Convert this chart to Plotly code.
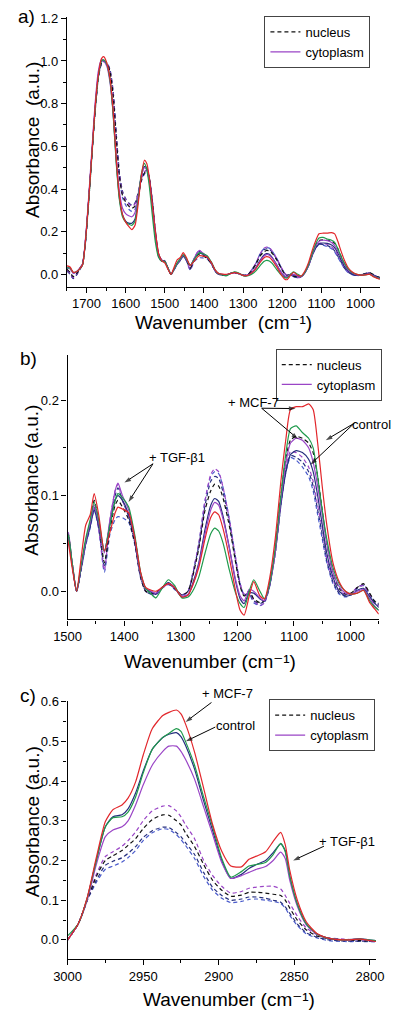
import plotly.graph_objects as go

# ---------------- data: panels a) and b) (same spectra, different x-range) ----------------
wn_ab = [1750, 1742, 1734, 1726, 1718, 1710, 1702, 1694, 1686, 1678, 1670, 1662, 1656, 1648, 1640, 1632,
         1624, 1616, 1608, 1600, 1592, 1584, 1576, 1568, 1560, 1552, 1546, 1540, 1532, 1524, 1516, 1508,
         1500, 1492, 1484, 1476, 1468, 1460, 1453, 1445, 1435, 1425, 1416, 1411, 1403, 1392, 1381, 1371,
         1362, 1352, 1344, 1333, 1322, 1311, 1298, 1287, 1279, 1268, 1257, 1247, 1240, 1233, 1225, 1214,
         1203, 1195, 1188, 1179, 1171, 1160, 1152, 1144, 1133, 1123, 1114, 1106, 1096, 1085, 1074, 1066,
         1058, 1050, 1042, 1031, 1020, 1009, 999, 988, 977, 966, 958, 950]

cyto_red = [0.040, 0.035, 0.010, 0.012, 0.025, 0.045, 0.170, 0.360, 0.570, 0.780, 0.930, 1.010, 1.020, 0.990, 0.920, 0.770,
            0.540, 0.370, 0.280, 0.245, 0.225, 0.210, 0.230, 0.330, 0.460, 0.535, 0.520, 0.460, 0.330, 0.200, 0.100, 0.065,
            0.054, 0.025, 0.000, 0.035, 0.069, 0.080, 0.102, 0.080, 0.042, 0.062, 0.082, 0.088, 0.086, 0.082, 0.055, 0.020,
            0.004, 0.001, 0.000, 0.004, 0.008, 0.004, -0.006, -0.004, 0.006, 0.025, 0.055, 0.077, 0.083, 0.080, 0.065, 0.035,
            0.000, -0.020, -0.025, -0.005, 0.010, -0.005, -0.008, 0.010, 0.055, 0.115, 0.160, 0.190, 0.193, 0.193, 0.196, 0.190,
            0.155, 0.110, 0.070, 0.030, 0.010, 0.000, -0.003, -0.002, 0.001, -0.012, -0.018, -0.024]
cyto_green = [0.030, 0.030, 0.010, 0.012, 0.025, 0.045, 0.165, 0.350, 0.560, 0.770, 0.920, 1.000, 1.005, 0.985, 0.910, 0.750,
              0.520, 0.350, 0.270, 0.245, 0.235, 0.230, 0.250, 0.350, 0.470, 0.520, 0.490, 0.420, 0.280, 0.150, 0.080, 0.062,
              0.060, 0.030, 0.000, 0.028, 0.055, 0.075, 0.093, 0.075, 0.042, 0.070, 0.095, 0.102, 0.098, 0.088, 0.058, 0.020,
              0.003, -0.003, -0.007, 0.003, 0.012, 0.006, -0.007, -0.006, 0.000, 0.015, 0.040, 0.060, 0.066, 0.063, 0.050, 0.022,
              -0.002, -0.013, -0.017, 0.000, 0.012, 0.000, -0.008, 0.005, 0.045, 0.100, 0.145, 0.170, 0.173, 0.166, 0.160, 0.150,
              0.120, 0.085, 0.055, 0.025, 0.008, 0.000, -0.003, -0.002, 0.001, -0.010, -0.016, -0.020]
cyto_purple = [0.030, 0.025, 0.005, 0.012, 0.028, 0.050, 0.180, 0.375, 0.590, 0.800, 0.950, 1.005, 1.000, 0.975, 0.900, 0.760,
               0.550, 0.390, 0.310, 0.285, 0.275, 0.270, 0.290, 0.370, 0.460, 0.500, 0.490, 0.440, 0.320, 0.190, 0.090, 0.065,
               0.060, 0.030, 0.000, 0.026, 0.052, 0.072, 0.090, 0.072, 0.040, 0.075, 0.105, 0.113, 0.100, 0.085, 0.055, 0.018,
               0.003, 0.000, -0.002, 0.003, 0.008, 0.004, -0.005, -0.003, 0.006, 0.028, 0.060, 0.085, 0.093, 0.090, 0.075, 0.045,
               0.012, -0.005, -0.010, 0.002, 0.000, -0.007, -0.010, 0.004, 0.040, 0.095, 0.135, 0.155, 0.160, 0.158, 0.150, 0.135,
               0.110, 0.080, 0.050, 0.020, 0.005, -0.002, -0.003, 0.000, 0.002, -0.008, -0.015, -0.020]
cyto_navy = [0.030, 0.030, 0.008, 0.010, 0.025, 0.045, 0.170, 0.360, 0.570, 0.780, 0.930, 1.000, 1.003, 0.985, 0.915, 0.760,
             0.530, 0.360, 0.280, 0.250, 0.240, 0.240, 0.260, 0.350, 0.460, 0.505, 0.500, 0.450, 0.320, 0.180, 0.085, 0.062,
             0.058, 0.028, 0.000, 0.024, 0.050, 0.068, 0.085, 0.068, 0.042, 0.070, 0.095, 0.100, 0.095, 0.080, 0.055, 0.018,
             0.003, -0.001, -0.003, 0.004, 0.009, 0.004, -0.006, -0.004, 0.008, 0.030, 0.065, 0.090, 0.097, 0.094, 0.078, 0.045,
             0.010, -0.008, -0.013, -0.002, -0.002, -0.008, -0.010, 0.003, 0.040, 0.090, 0.125, 0.143, 0.147, 0.145, 0.138, 0.125,
             0.100, 0.070, 0.040, 0.015, 0.000, -0.005, -0.004, 0.001, 0.003, -0.006, -0.012, -0.017]
nuc_purple = [0.020, 0.005, -0.015, 0.000, 0.025, 0.050, 0.170, 0.360, 0.570, 0.770, 0.920, 0.990, 1.000, 0.990, 0.955, 0.850,
              0.650, 0.470, 0.380, 0.350, 0.330, 0.320, 0.330, 0.380, 0.450, 0.480, 0.490, 0.460, 0.350, 0.200, 0.095, 0.068,
              0.064, 0.030, 0.000, 0.025, 0.050, 0.070, 0.088, 0.065, 0.022, 0.075, 0.105, 0.112, 0.095, 0.078, 0.050, 0.015,
              0.000, -0.003, -0.003, 0.004, 0.008, 0.003, -0.004, 0.000, 0.018, 0.050, 0.095, 0.122, 0.128, 0.125, 0.108, 0.075,
              0.035, 0.008, -0.003, 0.000, -0.010, -0.015, -0.012, 0.003, 0.040, 0.095, 0.130, 0.146, 0.145, 0.140, 0.130, 0.115,
              0.090, 0.065, 0.035, 0.012, 0.000, -0.003, -0.002, 0.004, 0.006, -0.004, -0.012, -0.015]
nuc_black = [0.025, 0.010, -0.010, 0.002, 0.025, 0.050, 0.170, 0.360, 0.570, 0.770, 0.920, 0.990, 1.000, 0.990, 0.950, 0.840,
             0.640, 0.460, 0.370, 0.340, 0.320, 0.310, 0.320, 0.370, 0.440, 0.475, 0.485, 0.455, 0.345, 0.200, 0.095, 0.066,
             0.062, 0.030, 0.000, 0.025, 0.052, 0.072, 0.095, 0.072, 0.030, 0.065, 0.090, 0.095, 0.088, 0.075, 0.050, 0.015,
             0.000, -0.002, -0.002, 0.004, 0.008, 0.003, -0.004, 0.000, 0.015, 0.045, 0.085, 0.105, 0.112, 0.110, 0.097, 0.068,
             0.030, 0.005, -0.005, 0.000, -0.008, -0.012, -0.010, 0.005, 0.045, 0.100, 0.140, 0.158, 0.162, 0.160, 0.155, 0.145,
             0.120, 0.085, 0.050, 0.020, 0.003, -0.003, -0.002, 0.004, 0.008, -0.002, -0.010, -0.014]
nuc_navy = [0.015, 0.000, -0.020, -0.005, 0.020, 0.045, 0.160, 0.350, 0.560, 0.760, 0.915, 0.985, 0.998, 0.992, 0.960, 0.860,
            0.660, 0.480, 0.390, 0.355, 0.335, 0.325, 0.335, 0.385, 0.450, 0.480, 0.488, 0.458, 0.350, 0.205, 0.098, 0.068,
            0.062, 0.030, 0.000, 0.024, 0.050, 0.068, 0.088, 0.068, 0.025, 0.072, 0.100, 0.108, 0.095, 0.078, 0.050, 0.015,
            0.000, -0.003, -0.003, 0.004, 0.008, 0.003, -0.004, 0.000, 0.017, 0.048, 0.090, 0.115, 0.120, 0.118, 0.103, 0.072,
            0.032, 0.006, -0.004, -0.002, -0.010, -0.013, -0.010, 0.004, 0.042, 0.095, 0.128, 0.142, 0.140, 0.135, 0.125, 0.110,
            0.085, 0.060, 0.032, 0.010, -0.002, -0.005, -0.003, 0.004, 0.007, -0.003, -0.010, -0.013]
nuc_blue = [0.020, 0.005, -0.018, -0.002, 0.022, 0.048, 0.165, 0.355, 0.565, 0.765, 0.918, 0.988, 0.999, 0.990, 0.955, 0.845,
            0.640, 0.455, 0.360, 0.325, 0.305, 0.295, 0.305, 0.360, 0.435, 0.470, 0.480, 0.450, 0.340, 0.195, 0.092, 0.064,
            0.060, 0.028, 0.000, 0.022, 0.048, 0.066, 0.085, 0.065, 0.020, 0.060, 0.075, 0.078, 0.077, 0.072, 0.048, 0.014,
            0.000, -0.003, -0.004, 0.003, 0.007, 0.002, -0.005, 0.000, 0.018, 0.050, 0.095, 0.120, 0.125, 0.123, 0.108, 0.075,
            0.035, 0.008, -0.004, -0.003, -0.012, -0.015, -0.012, 0.002, 0.040, 0.090, 0.125, 0.140, 0.137, 0.130, 0.120, 0.105,
            0.080, 0.055, 0.030, 0.008, -0.003, -0.006, -0.004, 0.003, 0.006, -0.004, -0.012, -0.015]

# ---------------- data: panel c) C-H stretching region ----------------
wn_c = [3000, 2993, 2987, 2981, 2975, 2970, 2964, 2960, 2955, 2950, 2944, 2937, 2933, 2928, 2925, 2922, 2916, 2910,
        2904, 2898, 2892, 2885, 2880, 2875, 2869, 2864, 2859, 2856, 2853, 2848, 2842, 2835, 2827, 2817, 2806, 2796]
c_cyto_red = [0.000, 0.040, 0.107, 0.207, 0.298, 0.328, 0.340, 0.357, 0.398, 0.465, 0.532, 0.565, 0.573, 0.579, 0.569, 0.544, 0.473, 0.382,
              0.290, 0.223, 0.186, 0.184, 0.203, 0.211, 0.222, 0.248, 0.271, 0.240, 0.175, 0.100, 0.045, 0.016, 0.004, 0.000, 0.002, -0.004]
c_cyto_green = [0.010, 0.040, 0.105, 0.200, 0.285, 0.308, 0.310, 0.322, 0.360, 0.420, 0.480, 0.510, 0.520, 0.532, 0.525, 0.500, 0.440, 0.360,
                0.285, 0.205, 0.158, 0.172, 0.186, 0.190, 0.195, 0.215, 0.243, 0.222, 0.160, 0.090, 0.040, 0.015, 0.004, 0.000, 0.002, -0.002]
c_cyto_navy = [0.000, 0.040, 0.105, 0.200, 0.285, 0.310, 0.315, 0.330, 0.370, 0.425, 0.480, 0.510, 0.518, 0.522, 0.512, 0.490, 0.430, 0.350,
               0.275, 0.200, 0.155, 0.165, 0.180, 0.190, 0.200, 0.220, 0.242, 0.225, 0.160, 0.090, 0.040, 0.015, 0.004, 0.000, 0.003, -0.002]
c_cyto_purple = [0.000, 0.040, 0.100, 0.190, 0.260, 0.277, 0.285, 0.300, 0.340, 0.390, 0.440, 0.475, 0.488, 0.488, 0.475, 0.455, 0.405, 0.335,
                 0.265, 0.195, 0.155, 0.162, 0.170, 0.178, 0.185, 0.200, 0.221, 0.205, 0.150, 0.085, 0.038, 0.014, 0.004, 0.000, 0.002, -0.004]
c_nuc_purple = [0.000, 0.040, 0.100, 0.165, 0.210, 0.222, 0.236, 0.250, 0.272, 0.300, 0.325, 0.337, 0.338, 0.325, 0.310, 0.290, 0.255, 0.200,
                0.162, 0.135, 0.118, 0.122, 0.130, 0.133, 0.135, 0.135, 0.128, 0.112, 0.092, 0.060, 0.030, 0.013, 0.005, 0.002, 0.000, -0.003]
c_nuc_black = [0.000, 0.040, 0.100, 0.160, 0.200, 0.212, 0.225, 0.238, 0.255, 0.280, 0.303, 0.315, 0.314, 0.300, 0.290, 0.270, 0.235, 0.190,
               0.150, 0.125, 0.110, 0.113, 0.120, 0.120, 0.118, 0.115, 0.112, 0.100, 0.080, 0.050, 0.025, 0.010, 0.003, 0.000, -0.002, -0.003]
c_nuc_navy = [0.000, 0.040, 0.100, 0.150, 0.188, 0.198, 0.207, 0.218, 0.235, 0.258, 0.275, 0.284, 0.283, 0.270, 0.260, 0.245, 0.215, 0.170,
              0.132, 0.112, 0.100, 0.103, 0.108, 0.108, 0.105, 0.100, 0.095, 0.083, 0.067, 0.040, 0.018, 0.007, 0.000, -0.003, -0.003, -0.004]
c_nuc_blue = [0.000, 0.040, 0.100, 0.145, 0.178, 0.186, 0.196, 0.207, 0.225, 0.250, 0.270, 0.280, 0.278, 0.265, 0.253, 0.238, 0.205, 0.160,
              0.125, 0.105, 0.094, 0.097, 0.102, 0.103, 0.100, 0.097, 0.092, 0.080, 0.062, 0.036, 0.015, 0.005, -0.002, -0.004, -0.004, -0.005]

# callout labels: (text, x px, y px) and arrows (panel, tail wn, tail A, head wn, head A)
callout_labels = [("+ MCF-7", 253, 398), ("control", 378, 420), ("+ TGF-β1", 173, 454),
                  ("+ MCF-7", 226, 691), ("control", 234, 724), ("+ TGF-β1", 352, 840)]
callout_arrows = [
    ("b", 1157, 0.1914, 1093.6, 0.191), ("b", 1157, 0.1914, 1090, 0.158),
    ("b", 993.3, 0.1757, 1046.8, 0.157), ("b", 993.3, 0.1757, 1073.5, 0.131),
    ("b", 1349, 0.1333, 1402.6, 0.1125), ("b", 1349, 0.1333, 1394.3, 0.0917),
    ("c", 2904.8, 0.598, 2923, 0.546), ("c", 2902.3, 0.536, 2923, 0.498),
    ("c", 2830.4, 0.236, 2852, 0.198),
]

# ---------------- styling ----------------
FONT = "Liberation Sans, Arial, DejaVu Sans, sans-serif"
COL = {"red": "#e2262b", "green": "#1f9a4c", "purple": "#9a45c6", "navy": "#262f7e",
       "blue": "#4a5bcc", "black": "#111111"}
W = 400
H = 1013


def px_x(p):
    return p / W


def px_y(p):
    return 1 - p / H


series_ab = [
    ("nuc", "blue", nuc_blue), ("nuc", "navy", nuc_navy), ("nuc", "purple", nuc_purple), ("nuc", "black", nuc_black),
    ("cyto", "navy", cyto_navy), ("cyto", "purple", cyto_purple), ("cyto", "green", cyto_green), ("cyto", "red", cyto_red),
]
series_c = [
    ("nuc", "blue", c_nuc_blue), ("nuc", "navy", c_nuc_navy), ("nuc", "purple", c_nuc_purple), ("nuc", "black", c_nuc_black),
    ("cyto", "navy", c_cyto_navy), ("cyto", "purple", c_cyto_purple), ("cyto", "green", c_cyto_green), ("cyto", "red", c_cyto_red),
]

fig = go.Figure()

panels = [
    ("x", "y", wn_ab, series_ab, "legend"),
    ("x2", "y2", wn_ab, series_ab, "legend2"),
    ("x3", "y3", wn_c, series_c, "legend3"),
]
for xa, ya, wn, series, leg in panels:
    for kind, col, vals in series:
        show = (kind == "nuc" and col == "black") or (kind == "cyto" and col == "purple")
        name = "nucleus" if kind == "nuc" else "cytoplasm"
        fig.add_trace(go.Scatter(
            x=wn, y=vals, xaxis=xa, yaxis=ya, mode="lines",
            line=dict(color=COL[col], width=1.2, dash="4px,3px" if kind == "nuc" else "solid",
                      shape="spline", smoothing=0.6),
            name=name, showlegend=show, legend=leg,
            legendrank=1 if kind == "nuc" else 2, hoverinfo="skip",
        ))

# arrows of the callouts
axmap = {"b": ("x2", "y2"), "c": ("x3", "y3")}
for pnl, tx, ty, hx, hy in callout_arrows:
    xa, ya = axmap[pnl]
    fig.add_trace(go.Scatter(
        x=[tx, hx], y=[ty, hy], xaxis=xa, yaxis=ya, mode="lines+markers",
        line=dict(color="black", width=1),
        marker=dict(symbol=["circle", "arrow"], size=[0.1, 7], angleref="previous", color="black",
                    line=dict(width=0), standoff=2),
        showlegend=False, hoverinfo="skip", cliponaxis=False,
    ))

axis_common = dict(showline=True, linecolor="black", linewidth=1.2, ticks="outside", ticklen=5,
                   tickwidth=1, tickcolor="black", showgrid=False, zeroline=False,
                   tickfont=dict(family=FONT, size=13, color="black"))
minor_x = dict(ticks="outside", ticklen=3, tickcolor="black", showgrid=False)

fig.update_layout(
    width=W, height=H, margin=dict(l=0, r=0, t=0, b=0),
    paper_bgcolor="white", plot_bgcolor="white",
    font=dict(family=FONT, color="black"),
    xaxis=dict(domain=[px_x(56), px_x(387)], range=[1750, 951], anchor="y", dtick=100, tick0=0,
               minor=dict(dtick=50, **minor_x), **axis_common),
    yaxis=dict(domain=[px_y(281.5), px_y(10.3)], range=[-0.057, 1.205], anchor="x", dtick=0.2, tick0=0,
               tickformat=".1f", minor=dict(dtick=0.1, **minor_x), **axis_common),
    xaxis2=dict(domain=[px_x(56.7), px_x(386)], range=[1500, 950], anchor="y2", dtick=100, tick0=0,
                minor=dict(dtick=50, **minor_x), **axis_common),
    yaxis2=dict(domain=[px_y(616.7), px_y(350)], range=[-0.0295, 0.2475], anchor="x2", dtick=0.1, tick0=0,
                tickformat=".1f", minor=dict(dtick=0.05, **minor_x), **axis_common),
    xaxis3=dict(domain=[px_x(56.7), px_x(383)], range=[3000, 2796], anchor="y3", dtick=50, tick0=0,
                minor=dict(dtick=25, **minor_x), **axis_common),
    yaxis3=dict(domain=[px_y(959), px_y(699.3)], range=[-0.049, 0.6005], anchor="x3", dtick=0.1, tick0=0,
                tickformat=".1f", minor=dict(dtick=0.05, **minor_x), **axis_common),
)

leg_common = dict(xanchor="left", yanchor="top", bgcolor="white", bordercolor="#444444", borderwidth=1,
                  font=dict(family=FONT, size=13, color="black"), tracegroupgap=0, itemwidth=30)
fig.update_layout(
    legend=dict(x=px_x(265), y=px_y(9), **leg_common),
    legend2=dict(x=px_x(277), y=px_y(344), **leg_common),
    legend3=dict(x=px_x(270), y=px_y(697), **leg_common),
)

ann = []
titles = [
    ("Absorbance\u00a0\u00a0(a.u.)", 19, 134, -90), ("Wavenumber\u00a0\u00a0(cm\u207b\u00b9)", 222, 318, 0),
    ("Absorbance (a.u.)", 19, 476, -90), ("Wavenumber (cm\u207b\u00b9)", 207, 659, 0),
    ("Absorbance (a.u.)", 19, 820, -90), ("Wavenumber (cm\u207b\u00b9)", 228, 999, 0),
]
for txt, xp, yp, ang in titles:
    ann.append(dict(text=txt, x=px_x(xp), y=px_y(yp), xref="paper", yref="paper", showarrow=False,
                    textangle=ang, xanchor="center", yanchor="middle",
                    font=dict(family=FONT, size=19, color="black")))
for txt, xp, yp in [("a)", 13, 10), ("b)", 15, 354), ("c)", 15, 693)]:
    ann.append(dict(text=txt, x=px_x(xp), y=px_y(yp), xref="paper", yref="paper", showarrow=False,
                    xanchor="center", yanchor="middle", font=dict(family=FONT, size=19, color="black")))
for txt, xp, yp in callout_labels:
    ann.append(dict(text=txt, x=px_x(xp), y=px_y(yp), xref="paper", yref="paper", showarrow=False,
                    xanchor="center", yanchor="middle", font=dict(family=FONT, size=13, color="black")))

fig.update_layout(annotations=ann)
fig.write_html("out.html", config={"displayModeBar": False},
               post_script="document.body.style.margin='0px';document.documentElement.style.margin='0px';")
